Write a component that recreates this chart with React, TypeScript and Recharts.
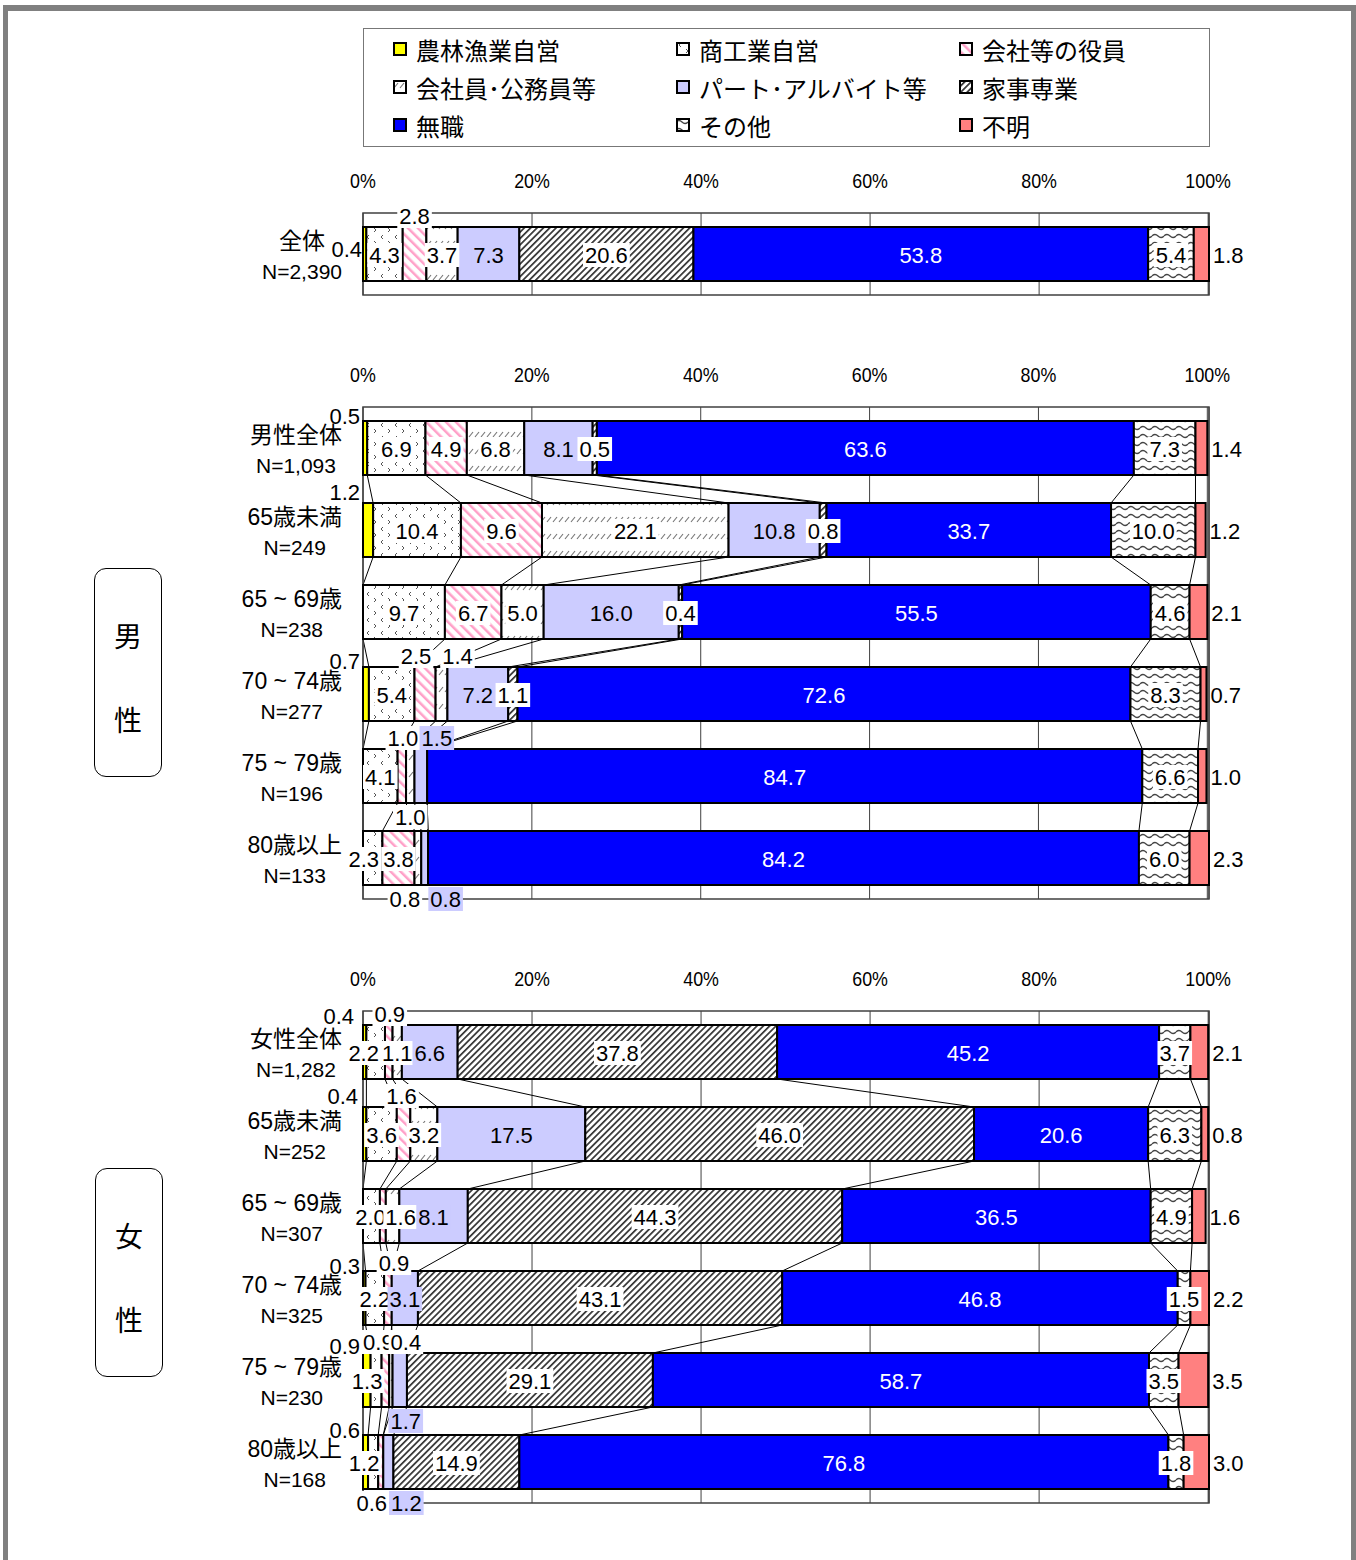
import React from 'react';
import { BarChart, Bar, XAxis, YAxis, CartesianGrid, Legend, ReferenceArea, LabelList } from 'recharts';

// series (stack order, left to right)
const seriesNames = ['農林漁業自営', '商工業自営', '会社等の役員', '会社員･公務員等', 'パート･アルバイト等', '家事専業', '無職', 'その他', '不明'];
const seriesKeys = ['agri', 'shop', 'exec', 'staff', 'part', 'house', 'none', 'other', 'unknown'];
const seriesFills = ['#FFFF00', 'url(#pShop)', 'url(#pExec)', 'url(#pStaff)', '#CCCCFF', 'url(#pHouse)', '#0000FF', 'url(#pOther)', '#FF8080'];
const labelBg = [null, '#fff', '#fff', '#fff', '#CCCCFF', '#fff', null, '#fff', null];

const pctTicks = [0, 20, 40, 60, 80, 100];

// 全体
const totalCats = ['全体'];
const totalN = ['N=2,390'];
const totalValues = [[0.4, 4.3, 2.8, 3.7, 7.3, 20.6, 53.8, 5.4, 1.8]];

// 男性
const maleCats = ['男性全体', '65歳未満', '65 ~ 69歳', '70 ~ 74歳', '75 ~ 79歳', '80歳以上'];
const maleN = ['N=1,093', 'N=249', 'N=238', 'N=277', 'N=196', 'N=133'];
const maleValues = [
  [0.5, 6.9, 4.9, 6.8, 8.1, 0.5, 63.6, 7.3, 1.4],
  [1.2, 10.4, 9.6, 22.1, 10.8, 0.8, 33.7, 10.0, 1.2],
  [0, 9.7, 6.7, 5.0, 16.0, 0.4, 55.5, 4.6, 2.1],
  [0.7, 5.4, 2.5, 1.4, 7.2, 1.1, 72.6, 8.3, 0.7],
  [0, 4.1, 1.0, 1.0, 1.5, 0, 84.7, 6.6, 1.0],
  [0, 2.3, 3.8, 0.8, 0.8, 0, 84.2, 6.0, 2.3],
];

// 女性
const femaleCats = ['女性全体', '65歳未満', '65 ~ 69歳', '70 ~ 74歳', '75 ~ 79歳', '80歳以上'];
const femaleN = ['N=1,282', 'N=252', 'N=307', 'N=325', 'N=230', 'N=168'];
const femaleValues = [
  [0.4, 2.2, 0.9, 1.1, 6.6, 37.8, 45.2, 3.7, 2.1],
  [0.4, 3.6, 1.6, 3.2, 17.5, 46.0, 20.6, 6.3, 0.8],
  [0, 2.0, 0.7, 1.6, 8.1, 44.3, 36.5, 4.9, 1.6],
  [0.3, 2.2, 0.9, 0, 3.1, 43.1, 46.8, 1.5, 2.2],
  [0.9, 1.3, 0.9, 0.4, 1.7, 29.1, 58.7, 3.5, 3.5],
  [0.6, 1.2, 0.6, 0, 1.2, 14.9, 76.8, 1.8, 3.0],
];

// where the small labels sit (panel-row-series)
type Spot = { pos: 'in' | 'above' | 'below' | 'leftTop' | 'leftMid' | 'right' | 'hide'; dx?: number; dy?: number };
const labelSpots: Record<string, Spot> = {
  'a-0-0': { pos: 'leftMid' },
  'a-0-2': { pos: 'above' },
  'm-0-0': { pos: 'leftTop', dy: 1 },
  'm-1-0': { pos: 'leftTop', dy: -5 },
  'm-3-0': { pos: 'leftTop' },
  'm-3-2': { pos: 'above', dx: -9 },
  'm-3-3': { pos: 'above', dx: 16 },
  'm-4-2': { pos: 'above', dx: 1 },
  'm-4-3': { pos: 'below' },
  'm-4-4': { pos: 'above', dx: 16 },
  'm-5-1': { pos: 'in', dx: -9 },
  'm-5-3': { pos: 'below', dx: -13 },
  'm-5-4': { pos: 'below', dx: 21 },
  'f-0-0': { pos: 'leftTop', dx: -6, dy: -3 },
  'f-0-1': { pos: 'in', dx: -12 },
  'f-0-2': { pos: 'above', dx: 1 },
  'f-1-0': { pos: 'leftTop', dx: -2, dy: -5 },
  'f-1-2': { pos: 'above', dx: -2 },
  'f-2-1': { pos: 'in', dx: -1 },
  'f-2-2': { pos: 'hide' },
  'f-2-3': { pos: 'in', dx: 8 },
  'f-3-0': { pos: 'leftTop', dy: 1 },
  'f-3-2': { pos: 'above', dx: 6, dy: 3 },
  'f-4-0': { pos: 'leftTop', dy: -1 },
  'f-4-1': { pos: 'in', dx: -9 },
  'f-4-2': { pos: 'above', dx: -7 },
  'f-4-3': { pos: 'above', dx: 15 },
  'f-4-4': { pos: 'below', dx: 6 },
  'f-5-0': { pos: 'leftTop', dy: 1 },
  'f-5-1': { pos: 'in', dx: -9 },
  'f-5-2': { pos: 'below', dx: -9 },
  'f-5-4': { pos: 'below', dx: 18 },
};

const FONT = "'Liberation Sans', 'Noto Sans CJK JP', sans-serif";
const BAR = 54;
const BAND = 82;
const GAP = BAND - BAR;

const ctx = typeof document !== 'undefined' ? document.createElement('canvas').getContext('2d') : null;
const measure = (t: string, size: number) => {
  if (!ctx) return t.length * size * 0.6;
  ctx.font = `${size}px ${FONT}`;
  return ctx.measureText(t).width;
};

const toRows = (cats: string[], ns: string[], values: number[][]) =>
  cats.map((c, i) => {
    const r: any = { name: c, n: ns[i] };
    seriesKeys.forEach((k, j) => (r[k] = values[i][j]));
    return r;
  });

const sumTo = (r: number[], j: number) => r.slice(0, j + 1).reduce((a, b) => a + b, 0);

// series lines between neighbouring bars, drawn as the background of the last series
const makeSeriesLines = (values: number[][], dmax: number) => (props: any) => {
  const L = props.x, W = props.width, top = props.y, h = props.height, i = props.index;
  const px = (v: number) => L + (v / dmax) * W;
  const row = values[i];
  const next = values[i + 1];
  if (!row || !next) return <g />;
  return (
    <g>
      {row.slice(0, 8).map((_, j) => (
        <line key={j} x1={px(sumTo(row, j))} y1={top + h} x2={px(sumTo(next, j))} y2={top + h + GAP} stroke="#000" strokeWidth={1} />
      ))}
    </g>
  );
};

const makeLabel = (panel: string, j: number, cats: string[], values: number[][]) => (props: any) => {
  const vb = props.viewBox ?? props;
  const { x, y, width, height } = vb;
  const v = Number(props.value);
  if (!(v > 0) || x == null) return null;
  // zero-valued segments get no entry, so map the index back to its row
  let i = props.payload?.name != null ? cats.indexOf(props.payload.name) : props.index;
  if (i < 0 || values[i]?.[j] !== v) {
    const nz = values.map((_, k) => k).filter((k) => values[k][j] > 0);
    i = nz[props.index] ?? props.index;
  }
  const spot = labelSpots[`${panel}-${i}-${j}`] ?? (j === 8 ? { pos: 'right' } : { pos: 'in' });
  if (spot.pos === 'hide') return null;
  const txt = v.toFixed(1);
  const tw = measure(txt, 22);
  let cx = x + width / 2;
  let cy = y + height / 2 + 1;
  let anchor: 'middle' | 'start' | 'end' = 'middle';
  switch (spot.pos) {
    case 'above': cy = y - 11; break;
    case 'below': cy = y + height + 14; break;
    case 'leftTop': cx = x - 3; cy = y - 6; anchor = 'end'; break;
    case 'leftMid': cx = x - 1; cy = y + height / 2 - 5; anchor = 'end'; break;
    case 'right': cx = x + width + 4; anchor = 'start'; break;
  }
  cx += spot.dx ?? 0;
  cy += spot.dy ?? 0;
  const bx = anchor === 'middle' ? cx - tw / 2 - 2 : anchor === 'end' ? cx - tw - 2 : cx - 2;
  const bg = spot.pos === 'leftTop' || spot.pos === 'leftMid' || spot.pos === 'right' ? null : labelBg[j];
  return (
    <g>
      {bg && <rect x={bx} y={cy - 12} width={tw + 4} height={24} fill={bg} />}
      <text x={cx} y={cy} textAnchor={anchor} dominantBaseline="central" fontSize={22} fontFamily={FONT} fill={j === 6 ? '#fff' : '#000'}>
        {txt}
      </text>
    </g>
  );
};

const PctTick = (props: any) => {
  const { x, y, payload } = props;
  return (
    <g transform={`translate(${x},${y - 25})`}>
      <text transform="scale(0.85,1)" textAnchor="middle" dominantBaseline="central" fontSize={21} fontFamily={FONT} fill="#000">
        {payload.value}%
      </text>
    </g>
  );
};

const CatTick = (props: any) => {
  const { x, y, payload, index, ns } = props;
  const l1 = String(payload.value);
  const l2 = ns[index];
  const w = Math.max(measure(l1, 23), measure(l2, 21));
  const cx = x - 13 - w / 2;
  return (
    <g>
      <text x={cx} y={y - 13} textAnchor="middle" dominantBaseline="central" fontSize={23} fontFamily={FONT} fill="#000">{l1}</text>
      <text x={cx} y={y + 17} textAnchor="middle" dominantBaseline="central" fontSize={21} fontFamily={FONT} fill="#000">{l2}</text>
    </g>
  );
};

const renderLegend = (props: any) => {
  const items = [...(props.payload ?? [])].sort(
    (a: any, b: any) => seriesNames.indexOf(a.value) - seriesNames.indexOf(b.value)
  );
  return (
    <div style={{ position: 'relative', width: 847, height: 119, border: '1.5px solid #777', boxSizing: 'border-box', background: '#fff' }}>
      {items.map((it: any, k: number) => (
        <div
          key={it.value}
          style={{ position: 'absolute', left: 29 + (k % 3) * 283, top: 5 + Math.floor(k / 3) * 38, height: 30, display: 'flex', alignItems: 'center' }}
        >
          <svg width={15} height={15}>
            <rect x={1} y={1} width={12} height={12} fill={it.color} stroke="#000" strokeWidth={2} />
          </svg>
          <span style={{ marginLeft: 8, fontSize: 24, fontFamily: FONT, color: '#000', whiteSpace: 'nowrap' }}>{it.value}</span>
        </div>
      ))}
    </div>
  );
};

function Panel(p: { id: string; cats: string[]; ns: string[]; values: number[][]; top: number; marginTop: number; legend?: boolean }) {
  const data = toRows(p.cats, p.ns, p.values);
  const dmax = Math.max(100, ...p.values.map((r) => r.reduce((a, b) => a + b, 0)));
  const height = p.marginTop + 63 + BAND * p.cats.length + 24;
  return (
    <div style={{ position: 'absolute', left: 0, top: p.top }}>
      <BarChart width={1356} height={height} data={data} layout="vertical" barSize={BAR} margin={{ top: p.marginTop, right: 147, bottom: 24, left: 0 }}>
        <XAxis type="number" orientation="top" domain={[0, dmax]} ticks={pctTicks} tick={<PctTick />} tickLine={false} axisLine={false} height={63} />
        <YAxis type="category" dataKey="name" width={363} tick={<CatTick ns={p.ns} />} tickLine={false} axisLine={false} />
        <CartesianGrid horizontal={false} stroke="#404040" strokeWidth={1} />
        <ReferenceArea x1={0} x2={dmax} fill="none" stroke="#404040" strokeWidth={1.5} />
        {seriesKeys.map((k, j) => (
          <Bar
            key={k}
            dataKey={k}
            name={seriesNames[j]}
            stackId="s"
            fill={seriesFills[j]}
            stroke="#000"
            strokeWidth={2}
            isAnimationActive={false}
            background={j === 8 ? makeSeriesLines(p.values, dmax) : undefined}
          >
            <LabelList dataKey={k} content={makeLabel(p.id, j, p.cats, p.values)} />
          </Bar>
        ))}
        {p.legend && (
          <Legend
            layout="vertical"
            align="center"
            verticalAlign="middle"
            content={renderLegend}
            wrapperStyle={{ top: 28, left: 363, width: 847, height: 119 }}
          />
        )}
      </BarChart>
    </div>
  );
}

const SideBox = ({ top, left, chars }: { top: number; left: number; chars: string[] }) => (
  <div style={{ position: 'absolute', top, left, width: 68, height: 209, border: '1.5px solid #000', borderRadius: 12, boxSizing: 'border-box', background: '#fff' }}>
    {chars.map((c, i) => (
      <div key={i} style={{ position: 'absolute', left: 0, width: '100%', top: 48 + i * 84, textAlign: 'center', fontSize: 28, lineHeight: '36px', fontFamily: "'Noto Sans CJK JP', sans-serif", color: '#000' }}>
        {c}
      </div>
    ))}
  </div>
);

export default function App() {
  return (
    <div style={{ position: 'absolute', left: 0, top: 0, width: 1356, height: 1560, background: '#fff', overflow: 'hidden' }}>
      <svg width={0} height={0} style={{ position: 'absolute' }}>
        <defs>
          <pattern id="pShop" width="14" height="13" patternUnits="userSpaceOnUse">
            <rect width="14" height="13" fill="#fff" />
            <path d="M5 1 L3 3 L5 5 M10 7 L12 9 L10 11" stroke="#555" strokeWidth="1" fill="none" />
          </pattern>
          <pattern id="pExec" width="7" height="7" patternUnits="userSpaceOnUse" patternTransform="rotate(-45)">
            <rect width="7" height="7" fill="#fff" />
            <rect width="2.5" height="7" fill="#FFA0C8" />
          </pattern>
          <pattern id="pStaff" width="6" height="17" patternUnits="userSpaceOnUse">
            <rect width="6" height="17" fill="#fff" />
            <path d="M1 8 L5 3" stroke="#777" strokeWidth="1.2" />
          </pattern>
          <pattern id="pHouse" width="4.5" height="4.5" patternUnits="userSpaceOnUse" patternTransform="rotate(45)">
            <rect width="4.5" height="4.5" fill="#fff" />
            <rect width="1.7" height="4.5" fill="#333" />
          </pattern>
          <pattern id="pOther" width="12" height="8" patternUnits="userSpaceOnUse">
            <rect width="12" height="8" fill="#fff" />
            <path d="M0 4 Q3 1 6 4 T12 4" stroke="#444" strokeWidth="1.3" fill="none" />
          </pattern>
        </defs>
      </svg>

      <div style={{ position: 'absolute', left: 3, top: 5, width: 1353, height: 1600, boxSizing: 'border-box', borderLeft: '5px solid #808080', borderTop: '6px solid #808080', borderRight: '5px solid #808080' }} />

      <Panel id="a" cats={totalCats} ns={totalN} values={totalValues} top={0} marginTop={150} legend />
      <Panel id="m" cats={maleCats} ns={maleN} values={maleValues} top={344} marginTop={0} />
      <Panel id="f" cats={femaleCats} ns={femaleN} values={femaleValues} top={948} marginTop={0} />

      <SideBox top={568} left={94} chars={['男', '性']} />
      <SideBox top={1168} left={95} chars={['女', '性']} />
    </div>
  );
}
